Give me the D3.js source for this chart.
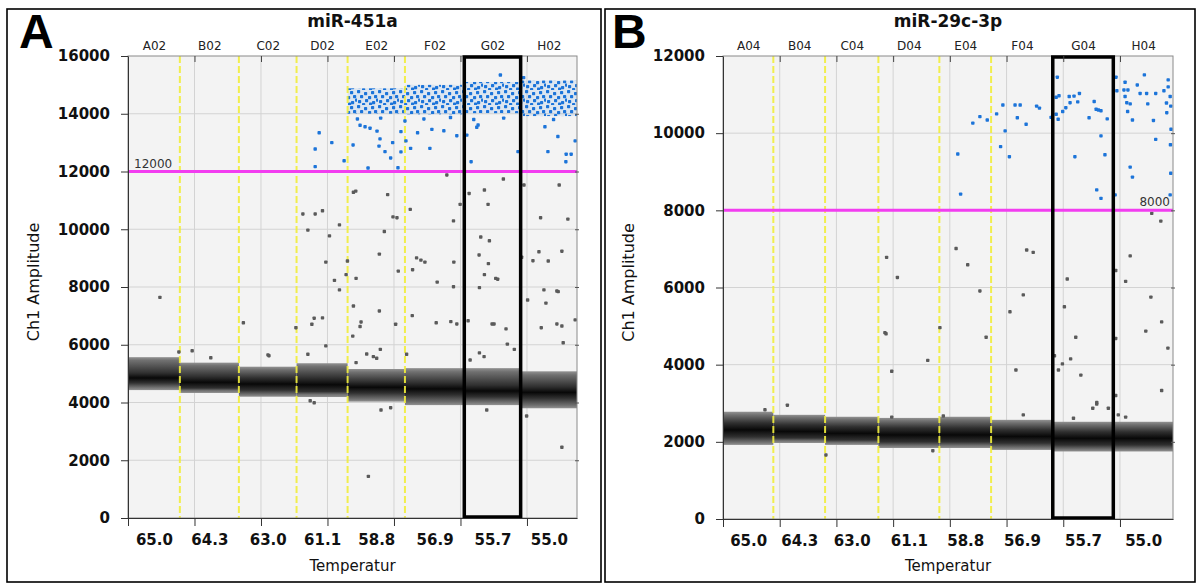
<!DOCTYPE html>
<html><head><meta charset="utf-8">
<script src="https://cdn.jsdelivr.net/npm/d3@7"></script>
<style>body{margin:0;background:#fff;} svg{display:block;}</style>
</head><body>
<svg id="c" width="1197" height="583"></svg>
<script>
// ---------------- DATA ----------------
const wellsA = ["A02","B02","C02","D02","E02","F02","G02","H02"];
const wellsB = ["A04","B04","C04","D04","E04","F04","G04","H04"];
const tempLabels = ["65.0","64.3","63.0","61.1","58.8","56.9","55.7","55.0"];
const yTicksA = [0,2000,4000,6000,8000,10000,12000,14000,16000];
const yTicksB = [0,2000,4000,6000,8000,10000,12000];
const thresholdA = 12000;
const thresholdB = 8000;
const highlightWell = 6; // G02 / G04
// droplet events per well (sets well widths)
const eventsA = [1560,1775,1735,1535,1725,1785,1695,1695];
const eventsB = [1775,1825,1880,2150,1825,2175,2135,2105];
// negative droplet cloud per well: [outer low, core low, core high, outer high]
const negBandA = [[4430,4680,5020,5570],[4330,4500,4900,5380],[4200,4430,4850,5240],[4190,4380,4850,5360],
                  [4030,4330,4720,5160],[3910,4260,4680,5190],[3910,4200,4600,5190],[3800,4150,4550,5080]];
const negBandB = [[1920,2130,2490,2780],[1970,2100,2440,2700],[1920,2050,2390,2650],[1840,2000,2360,2620],
                  [1840,2000,2360,2650],[1790,1970,2310,2570],[1750,1920,2260,2520],[1750,1920,2260,2520]];
// dense positive droplet cloud per well: [low, high]
const posBandA = [null,null,null,null,[14000,14880],[13980,15000],[14020,15100],[13920,15150]];
const posBandB = [null,null,null,null,null,null,null,null];
// individual droplets: [event number, amplitude]
const negPointsA = [
[960,7640],[1530,5750],[1930,5790],[2490,5550],[3470,6760],[4240,5620],[4210,5650],[5050,6590],
[5260,10530],[5410,9970],[5630,10530],[5850,10640],[5950,8860],[6060,9770],[6360,10150],[6210,8230],[6360,7900],[6560,8430],[6600,8900],[6860,8300],
[5410,5670],[5530,6710],[5600,6920],[5850,6930],[5950,5960],[5480,4060],[5600,3990],
[6780,11280],[6850,11320],[6780,7340],[6760,6300],[7010,6790],[6980,6630],[6860,5380],[7180,5680],[7380,5590],[7480,5530],[7590,5840],
[7710,9920],[7810,11200],[7560,9140],[7560,7170],[7970,10430],[8090,10400],[8130,8550],[8050,6710],[8380,5670],
[8490,10690],[8560,8600],[8550,7010],[8680,9010],[8810,8930],[8930,8860],[9300,8170],[9270,6760],[9590,11880],[9790,10290],[9800,8860],[9790,8010],[9710,6800],[9890,6720],[9990,10860],
[10230,6830],[10260,11240],[10570,7980],[10560,9110],[10610,9730],[10720,11360],[10720,8430],[10830,10860],[10840,8810],[10870,9600],[11060,8300],[11120,8270],[10950,6720],[11010,6720],[11290,11740],[11370,6550],[11410,6020],[11620,5840],[10570,5720],[10290,5470],[10710,5590],
[11910,11530],[11840,9030],[12020,7550],[12180,8910],[12360,9220],[12410,10400],[12510,7900],[12570,7440],[12640,8900],[12900,7860],[12940,7840],[12970,11530],[13050,9240],[13230,10350],[12430,6590],[12900,6720],[13050,6650],[13090,6070],[13450,6860],
[7610,3740],[7900,3820],[10790,3740],[11990,3530],[13050,2450],[7230,1440]
];
const posPointsA = [
[5750,13340],[5630,12780],[5630,12170],[6130,13000],[6500,12370],[6770,12920],[7220,12120],[6980,13600],[7130,13550],[7280,13500],[7490,13400],[7580,13130],[7550,12880],[7730,12690],[7900,12470],[7960,13000],[8120,12130],[8210,12680],[8210,13380],[8330,13750],[8360,13060],[8500,12800],[8710,13340],[9080,12800],[9140,13460],[9500,13410],[9890,13240],[10190,13260],[10320,12340],[10490,13530],[10530,13610],[11730,12690],[12540,13550],[12630,12690],[12930,13210],[13180,12600],[13330,12600],[13170,12340],[13450,13060],
[6900,13820],[7600,13850],[8900,13820],[9700,13870],[10400,13800],[11300,13850],[11900,15250],[11200,15340],[12800,13800]
];
const negPointsB = [
[15120,7920],[15440,7720],[8220,7010],[8630,6590],[5770,6780],[6150,6260],[10710,6970],[10940,6910],[9060,5910],[10590,5810],[10120,5370],
[12140,6220],[12040,5500],[12440,4710],[12260,4150],[11970,4020],[11830,3860],[11690,4230],[12620,3730],[13180,2980],[13040,2870],[13590,2870],
[13850,6440],[13850,4680],[13850,3200],[14360,6820],[14200,6160],[15090,5750],[15470,5110],[14910,4870],[15690,4430],[15470,3330],
[5710,4830],[5750,4800],[7650,4960],[7220,4110],[5950,3830],[9280,4710],[10330,3860],
[2270,2950],[1480,2830],[3630,1660],[7400,1770],[10590,2700],[12360,2610],[13180,3020],[13940,2700],[14200,2640],[7770,2670],[5950,2640]
];
const posPointsB = [
[8280,9460],[8380,8420],[8810,10260],[9060,10430],[9320,10340],[9650,10500],[9870,10730],[9950,10060],[9790,9650],[10100,9390],[10300,10730],[10480,10730],[10380,10400],[10690,10230],[11060,10700],[11160,10650],[11570,10410],
[11790,11450],[11750,10930],[11850,10970],[11750,10490],[11820,10360],[11980,10560],[12090,10660],[12210,10950],[12240,10790],[12380,10960],[12510,10810],[12570,11030],[12410,9390],[12910,10400],[13090,10820],[13160,10620],[13240,10600],[13330,10580],[13330,9930],[13180,8530],[13330,8310],[13470,9440],[13550,10370],
[13860,11450],[13890,11100],[13830,8400],[14180,11320],[14140,11120],[14280,11120],[14180,10950],[14240,10790],[14270,10560],[14360,10760],[14440,10340],[14360,9120],[14440,8860],[14610,11250],[14710,11030],[14940,11030],[14980,10760],[14860,11510],[15180,10330],[15260,9840],[15260,11030],[15550,11100],[15640,10780],[15700,11380],[15700,11200],[15770,10950],[15790,10700],[15650,10530],[15790,8960],[15770,8400],[15780,9700],[15800,10100]
];

// ---------------- DRAW ----------------
const svg = d3.select("#c");
const defs = svg.append("defs");
const BLUE = "#1c74d9", GRAY = "#5a5a5a";
const pat = defs.append("pattern").attr("id","dots").attr("patternUnits","userSpaceOnUse")
  .attr("width",21).attr("height",15);
pat.selectAll("rect").data([[0,0],[7,2],[14,1],[3,5],[11,6],[17,5],[1,10],[8,9],[15,11],[5,13],[12,12.5],[19,8.5]]).join("rect")
  .attr("x",d=>d[0]).attr("y",d=>d[1]).attr("width",3.2).attr("height",3.2).attr("rx",0.7).attr("fill",BLUE);

function drawPanel(p){
  const g = svg.append("g");
  const total = d3.sum(p.events);
  const bounds = [0, ...d3.cumsum(p.events)];
  const centers = p.events.map((e,i)=>(bounds[i]+bounds[i+1])/2);
  const x = d3.scaleLinear().domain([0,total]).range([p.left,p.right]);
  const y = d3.scaleLinear().domain([0,p.yMax]).range([p.bottom,p.top]);
  const font = "DejaVu Sans, Verdana, sans-serif";

  g.append("rect").attr("x",p.frame[0]).attr("y",p.frame[1])
    .attr("width",p.frame[2]-p.frame[0]).attr("height",p.frame[3]-p.frame[1])
    .attr("fill","none").attr("stroke","#000").attr("stroke-width",1.6);

  g.append("rect").attr("x",p.left).attr("y",p.top).attr("width",p.right-p.left)
    .attr("height",p.bottom-p.top).attr("fill","#f3f3f3");

  // grid
  g.selectAll(".hg").data(p.yTicks.slice(1,-1)).join("line")
    .attr("x1",p.left).attr("x2",p.right).attr("y1",d=>y(d)).attr("y2",d=>y(d))
    .attr("stroke","#d3d3d3").attr("stroke-width",1);
  const vg = d3.range(p.gridStep,total,p.gridStep);
  g.selectAll(".vg").data(vg).join("line")
    .attr("x1",d=>x(d)).attr("x2",d=>x(d)).attr("y1",p.top).attr("y2",p.bottom)
    .attr("stroke","#d3d3d3").attr("stroke-width",1);

  // negative droplet clouds
  p.negBand.forEach((b,i)=>{
    const [lo,cl,ch,hi] = b;
    const id = p.id+"g"+i;
    const f = v => (hi-v)/(hi-lo);
    const gr = defs.append("linearGradient").attr("id",id).attr("x1",0).attr("y1",0).attr("x2",0).attr("y2",1);
    [[0,"#929292"],[0.1,"#707070"],[f(ch),"#303030"],[(f(ch)+f(cl))/2,"#080808"],[f(cl),"#303030"],[0.92,"#707070"],[1,"#929292"]]
      .forEach(s=>gr.append("stop").attr("offset",s[0]).attr("stop-color",s[1]));
    g.append("rect").attr("x",x(bounds[i])).attr("width",x(bounds[i+1])-x(bounds[i]))
      .attr("y",y(hi)).attr("height",y(lo)-y(hi)).attr("fill",`url(#${id})`);
  });

  // positive dense clouds
  p.posBand.forEach((b,i)=>{
    if(!b) return;
    g.append("rect").attr("x",x(bounds[i])).attr("width",x(bounds[i+1])-x(bounds[i]))
      .attr("y",y(b[1])).attr("height",y(b[0])-y(b[1])).attr("fill",BLUE).attr("opacity",0.1);
    g.append("rect").attr("x",x(bounds[i])).attr("width",x(bounds[i+1])-x(bounds[i]))
      .attr("y",y(b[1])).attr("height",y(b[0])-y(b[1])).attr("fill","url(#dots)");
  });

  // yellow well separators
  g.selectAll(".yl").data(bounds.slice(1,-1)).join("line")
    .attr("x1",d=>x(d)).attr("x2",d=>x(d)).attr("y1",p.top).attr("y2",p.bottom)
    .attr("stroke","#f1ee3c").attr("stroke-width",2).attr("stroke-dasharray","7,3").attr("opacity",0.9);

  // droplets
  g.selectAll(".np").data(p.negPoints).join("rect")
    .attr("x",d=>x(d[0])-1.7).attr("y",d=>y(d[1])-1.7).attr("width",3.4).attr("height",3.4).attr("rx",0.8)
    .attr("fill",GRAY);
  g.selectAll(".pp").data(p.posPoints).join("rect")
    .attr("x",d=>x(d[0])-1.7).attr("y",d=>y(d[1])-1.7).attr("width",3.4).attr("height",3.4).attr("rx",0.8)
    .attr("fill",BLUE);

  // threshold
  g.append("line").attr("x1",p.left).attr("x2",p.right).attr("y1",y(p.threshold)).attr("y2",y(p.threshold))
    .attr("stroke","#f23df0").attr("stroke-width",3);
  const tl = g.append("text").attr("y",y(p.threshold)-4).attr("font-family",font).attr("font-size",12)
    .attr("fill","#333").text(p.threshold);
  if(p.thLabelRight) tl.attr("x",p.right-3).attr("text-anchor","end");
  else tl.attr("x",p.left+6);

  // border (top/right gray)
  g.append("rect").attr("x",p.left).attr("y",p.top).attr("width",p.right-p.left)
    .attr("height",p.bottom-p.top).attr("fill","none").attr("stroke","#8a8a8a").attr("stroke-width",1);

  // highlight box
  g.append("rect").attr("x",x(bounds[p.highlight])).attr("y",p.top+1)
    .attr("width",x(bounds[p.highlight+1])-x(bounds[p.highlight])).attr("height",p.bottom-p.top-2)
    .attr("fill","none").attr("stroke","#000").attr("stroke-width",3.5);

  // axes
  const ya = g.append("g").attr("transform",`translate(${p.left},0)`)
    .call(d3.axisLeft(y).tickValues(p.yTicks).tickSize(7).tickSizeOuter(0).tickPadding(11).tickFormat(d3.format("d")));
  ya.selectAll("text").attr("font-family",font).attr("font-size",15).attr("font-weight","bold").attr("fill","#111");
  ya.selectAll("line,path").attr("stroke","#333");

  const ra = g.append("g").attr("transform",`translate(${p.right},0)`)
    .call(d3.axisRight(y).tickValues(p.yTicks.slice(1,-1)).tickSize(4).tickSizeOuter(0).tickFormat(""));
  ra.select("path").remove(); ra.selectAll("line").attr("stroke","#555").attr("transform","translate(-2,0)");

  const ba = g.append("g").attr("transform",`translate(0,${p.bottom})`)
    .call(d3.axisBottom(x).tickValues([0,...vg]).tickSize(8).tickSizeOuter(0).tickFormat(""));
  ba.selectAll("line,path").attr("stroke","#333");

  const ta = g.append("g").attr("transform",`translate(0,${p.top})`)
    .call(d3.axisTop(x).tickValues(vg).tickSize(-6).tickSizeOuter(0).tickFormat(""));
  ta.select("path").remove(); ta.selectAll("line").attr("stroke","#444");

  const wl = g.append("g").attr("transform",`translate(0,${p.top})`)
    .call(d3.axisTop(x).tickValues(centers).tickSize(0).tickPadding(6).tickFormat((d,i)=>p.wells[i]));
  wl.select("path").remove();
  wl.selectAll("text").attr("font-family",font).attr("font-size",12).attr("fill","#222");

  const tla = g.append("g").attr("transform",`translate(0,${p.bottom})`)
    .call(d3.axisBottom(x).tickValues(centers).tickSize(0).tickPadding(16).tickFormat((d,i)=>p.temps[i]));
  tla.select("path").remove();
  tla.selectAll("text").attr("font-family",font).attr("font-size",15).attr("font-weight","bold").attr("fill","#111");

  // labels
  g.append("text").attr("x",(p.left+p.right)/2).attr("y",571).attr("text-anchor","middle")
    .attr("font-family",font).attr("font-size",15).attr("fill","#111").text("Temperatur");
  g.append("text").attr("transform",`translate(${p.ylabelX},${(p.top+p.bottom)/2-5}) rotate(-90)`)
    .attr("text-anchor","middle").attr("dominant-baseline","middle")
    .attr("font-family",font).attr("font-size",16).attr("fill","#111").text("Ch1 Amplitude");
  g.append("text").attr("x",(p.left+p.right)/2).attr("y",27).attr("text-anchor","middle")
    .attr("font-family",font).attr("font-size",17).attr("font-weight","bold").attr("fill","#111").text(p.title);
  g.append("text").attr("x",p.letterX).attr("y",48).attr("font-family","Liberation Sans, Arial, sans-serif")
    .attr("font-size",48).attr("font-weight","bold").attr("fill","#000").text(p.letter);
}

drawPanel({id:"A", left:128, right:577, top:56, bottom:518, frame:[7,9,601,582], letter:"A", letterX:19,
  title:"miR-451a", wells:wellsA, temps:tempLabels, events:eventsA, gridStep:2000, yMax:16000, yTicks:yTicksA,
  negBand:negBandA, posBand:posBandA, negPoints:negPointsA, posPoints:posPointsA,
  threshold:thresholdA, thLabelRight:false, highlight:highlightWell, ylabelX:34});
drawPanel({id:"B", left:723, right:1173, top:56, bottom:519, frame:[605,9,1195,582], letter:"B", letterX:612,
  title:"miR-29c-3p", wells:wellsB, temps:tempLabels, events:eventsB, gridStep:2000, yMax:12000, yTicks:yTicksB,
  negBand:negBandB, posBand:posBandB, negPoints:negPointsB, posPoints:posPointsB,
  threshold:thresholdB, thLabelRight:true, highlight:highlightWell, ylabelX:629});
</script>
</body></html>
